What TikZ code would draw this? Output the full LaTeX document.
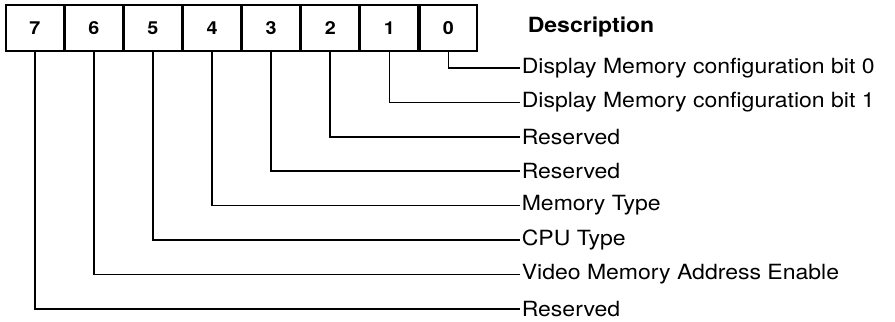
\documentclass[tikz,border=0pt]{standalone}
\usepackage{fontspec}
\setmainfont{TeX Gyre Heros}
\newfontfamily\widesans[FakeStretch=1.1]{TeX Gyre Heros}
\usetikzlibrary{positioning}

\begin{document}
\begin{tikzpicture}[
    x=1bp, y=-1bp,
    line width=1.6bp,
    bitcell/.style={draw, rectangle, minimum width=57.5bp, minimum height=46bp,
      inner sep=0pt, font=\widesans\fontsize{18}{20}\selectfont\bfseries},
    desc/.style={anchor=west, inner xsep=1bp, inner ysep=0pt,
      font=\widesans\fontsize{21}{24}\selectfont},
    lead/.style={line width=1.6bp},
  ]
    \useasboundingbox (0,0) rectangle (895,321);
    % register cells, bit 7 on the left
    \node[bitcell] (b7) at (34.75,28) {7};
    \node[bitcell, right=0pt of b7] (b6) {6};
    \node[bitcell, right=0pt of b6] (b5) {5};
    \node[bitcell, right=0pt of b5] (b4) {4};
    \node[bitcell, right=0pt of b4] (b3) {3};
    \node[bitcell, right=0pt of b3] (b2) {2};
    \node[bitcell, right=0pt of b2] (b1) {1};
    \node[bitcell, right=0pt of b1] (b0) {0};
    % heading
    \node[desc, font=\widesans\fontsize{21}{24}\selectfont\bfseries] (head) at (526,27) {Description};
    % bit descriptions
    \node[desc] (d0) at (520,68.0)  {Display Memory configuration bit 0};
    \node[desc] (d1) at (520,102.4) {Display Memory configuration bit 1};
    \node[desc] (d2) at (520,136.8) {Reserved};
    \node[desc] (d3) at (520,171.2) {Reserved};
    \node[desc] (d4) at (520,205.6) {Memory Type};
    \node[desc] (d5) at (520,240.0) {CPU Type};
    \node[desc] (d6) at (520,274.4) {Video Memory Address Enable};
    \node[desc] (d7) at (520,308.8) {Reserved};
    % leader lines
    \foreach \i in {0,...,7}
      \draw[lead] (b\i.south) |- (d\i.west);
\end{tikzpicture}
\end{document}
